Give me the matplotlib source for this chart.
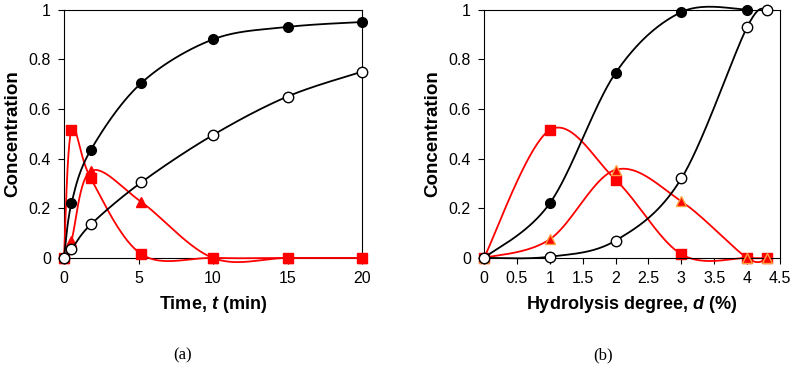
import matplotlib.pyplot as plt
import numpy as np

plt.rcParams['font.family'] = ['Liberation Sans', 'DejaVu Sans']
plt.rcParams['mathtext.fontset'] = 'custom'
plt.rcParams['mathtext.rm'] = 'Liberation Sans'
plt.rcParams['mathtext.it'] = 'Liberation Sans:italic'
plt.rcParams['mathtext.bf'] = 'Liberation Sans:bold'
plt.rcParams['mathtext.bfit'] = 'Liberation Sans:italic:bold'

# panel (a): concentration vs time
t_min = [0, 0.5, 1.8, 5.2, 10, 15, 20]
a_filled = [0, 0.22, 0.435, 0.705, 0.88, 0.93, 0.95]
a_open = [0, 0.035, 0.135, 0.305, 0.495, 0.65, 0.75]
a_square = [0, 0.515, 0.32, 0.015, 0, 0, 0]
a_triangle = [0, 0.07, 0.35, 0.225, 0, 0, 0]

# panel (b): concentration vs hydrolysis degree
d_filled = [0, 1, 2, 3, 4]
b_filled = [0, 0.22, 0.745, 0.99, 1.0]
d_all = [0, 1, 2, 3, 4, 4.3]
b_open = [0, 0.005, 0.07, 0.32, 0.93, 1.0]
b_square = [0, 0.515, 0.315, 0.015, 0, 0]
b_triangle = [0, 0.075, 0.355, 0.228, 0, 0]

RED = '#ff0000'
ORANGE = '#ffa040'


def smooth(x, y, n=40):
    # Catmull-Rom style bezier, similar to a spreadsheet "smoothed line"
    p = np.column_stack([x, y]).astype(float)
    pts = [p[0]]
    for i in range(len(p) - 1):
        p0 = p[i - 1] if i > 0 else p[i]
        p1, p2 = p[i], p[i + 1]
        p3 = p[i + 2] if i + 2 < len(p) else p[i + 1]
        c1 = p1 + (p2 - p0) / 6
        c2 = p2 - (p3 - p1) / 6
        s = np.linspace(0, 1, n)[1:, None]
        seg = ((1 - s) ** 3) * p1 + 3 * ((1 - s) ** 2) * s * c1 + 3 * (1 - s) * s ** 2 * c2 + s ** 3 * p2
        pts.extend(seg)
    pts = np.array(pts)
    return pts[:, 0], pts[:, 1]


def series(ax, x, y, color, marker, mfc, mec, ms, z):
    sx, sy = smooth(x, y)
    ax.plot(sx, sy, color=color, lw=1.3, zorder=z, clip_on=False)
    ax.plot(x, y, ls='none', marker=marker, ms=ms, mfc=mfc, mec=mec, mew=1.0,
            zorder=z + 0.5, clip_on=False)


fig = plt.figure(figsize=(7.96, 3.68), dpi=100)
ax1 = fig.add_axes([0.0804, 0.299, 0.3744, 0.675])
ax2 = fig.add_axes([0.608, 0.299, 0.372, 0.675])

series(ax1, t_min, a_triangle, RED, '^', RED, RED, 7, 2)
series(ax1, t_min, a_square, RED, 's', RED, RED, 6.5, 3)
series(ax1, t_min, a_filled, 'black', 'o', 'black', 'black', 7, 4)
series(ax1, t_min, a_open, 'black', 'o', 'white', 'black', 7.5, 5)

series(ax2, d_all, b_square, RED, 's', RED, RED, 6.5, 2)
series(ax2, d_all, b_triangle, RED, '^', RED, ORANGE, 7.5, 3)
series(ax2, d_filled, b_filled, 'black', 'o', 'black', 'black', 7, 4)
series(ax2, d_all, b_open, 'black', 'o', 'white', 'black', 7.5, 5)

for ax in (ax1, ax2):
    ax.set_ylim(0, 1)
    ax.set_yticks([0, 0.2, 0.4, 0.6, 0.8, 1])
    ax.set_yticklabels(['0', '0.2', '0.4', '0.6', '0.8', '1'])
    ax.tick_params(direction='out', length=4, width=0.8, labelsize=11.5, pad=5.5)
    ax.set_ylabel('Concentration', fontsize=13.5, fontweight='bold', labelpad=5)
    for sp in ax.spines.values():
        sp.set_linewidth(0.8)

ax1.set_xlim(0, 20)
ax1.set_xticks([0, 5, 10, 15, 20])
ax1.set_xlabel('Time, $\\mathbfit{t}$ (min)', fontsize=13, fontweight='bold', labelpad=6)

ax2.set_xlim(0, 4.5)
ax2.set_xticks(np.arange(0, 4.51, 0.5))
ax2.set_xticklabels(['0', '0.5', '1', '1.5', '2', '2.5', '3', '3.5', '4', '4.5'])
ax2.set_xlabel('Hydrolysis degree, $\\mathbfit{d}$ (%)', fontsize=13, fontweight='bold', labelpad=6)

fig.text(183 / 796, 1 - 355 / 368, '(a)', ha='center', va='center', fontsize=12,
         family=['Liberation Serif', 'DejaVu Serif'])
fig.text(603 / 796, 1 - 355 / 368, '(b)', ha='center', va='center', fontsize=12,
         family=['Liberation Serif', 'DejaVu Serif'])

fig.savefig('out.png', dpi=100)
